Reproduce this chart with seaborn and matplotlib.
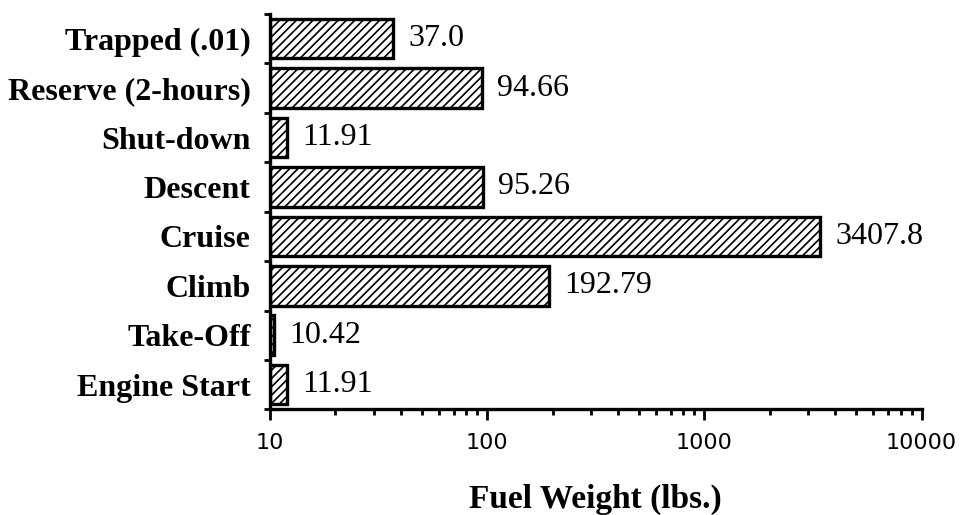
import matplotlib
matplotlib.use("Agg")
import matplotlib.pyplot as plt
import seaborn as sns
import pandas as pd
import numpy as np

categories = ["Trapped (.01)", "Reserve (2-hours)", "Shut-down", "Descent",
              "Cruise", "Climb", "Take-Off", "Engine Start"]
fuel_weight = [37.0, 94.66, 11.91, 95.26, 3407.8, 192.79, 10.42, 11.91]
value_labels = ["37.0", "94.66", "11.91", "95.26", "3407.8", "192.79", "10.42", "11.91"]
x_ticks = [10, 100, 1000, 10000]
x_tick_labels = ["10", "100", "1000", "10000"]
x_min, x_max = 10, 10000

sns.set_style("ticks", rc={"axes.edgecolor": "black", "text.color": "black",
                           "xtick.color": "black", "ytick.color": "black",
                           "axes.labelcolor": "black"})
plt.rcParams["hatch.linewidth"] = 1.2
plt.rcParams["hatch.color"] = "black"

df = pd.DataFrame({"category": categories, "fuel": fuel_weight})

fig = plt.figure(figsize=(9.61, 5.15), dpi=100)
ax = fig.add_axes([0.281, 0.205, 0.678, 0.768])

sns.barplot(data=df, x="fuel", y="category", orient="h", ax=ax,
            color="white", edgecolor="black", linewidth=2.4,
            width=0.8, hatch="////", log_scale=(True, False))

# bars should start at the left edge of the log axis
for p in ax.patches:
    right = p.get_x() + p.get_width()
    p.set_x(x_min)
    p.set_width(right - x_min)

ax.set_xlim(x_min, x_max)
ax.set_ylim(len(categories) - 0.5, -0.5)

serif = "Liberation Serif"
for i, (v, lab) in enumerate(zip(fuel_weight, value_labels)):
    ax.annotate(lab, xy=(v, i), xytext=(11, 0), textcoords="offset points",
                ha="left", va="center", fontsize=23, family=serif, color="black")

ax.set_xticks(x_ticks)
ax.set_xticklabels(x_tick_labels, fontsize=16, family="DejaVu Sans")
ax.xaxis.set_minor_locator(matplotlib.ticker.LogLocator(base=10, subs=np.arange(2, 10)))
ax.xaxis.set_minor_formatter(matplotlib.ticker.NullFormatter())
ax.tick_params(axis="x", which="major", direction="out", length=8, width=2, pad=9)
ax.tick_params(axis="x", which="minor", direction="out", length=4, width=2)

ax.set_yticks(range(len(categories)))
ax.set_yticklabels(categories, fontsize=23, family=serif, fontweight="bold")
ax.set_yticks(np.arange(-0.5, len(categories), 1.0), minor=True)
ax.tick_params(axis="y", which="major", length=0, pad=14)
ax.tick_params(axis="y", which="minor", direction="out", length=4, width=2)

ax.set_ylabel("")
ax.set_xlabel("Fuel Weight (lbs.)", fontsize=24, family=serif, fontweight="bold", labelpad=22)

for s in ["top", "right"]:
    ax.spines[s].set_visible(False)
for s in ["left", "bottom"]:
    ax.spines[s].set_linewidth(2.4)

fig.savefig("out.png", dpi=100)
